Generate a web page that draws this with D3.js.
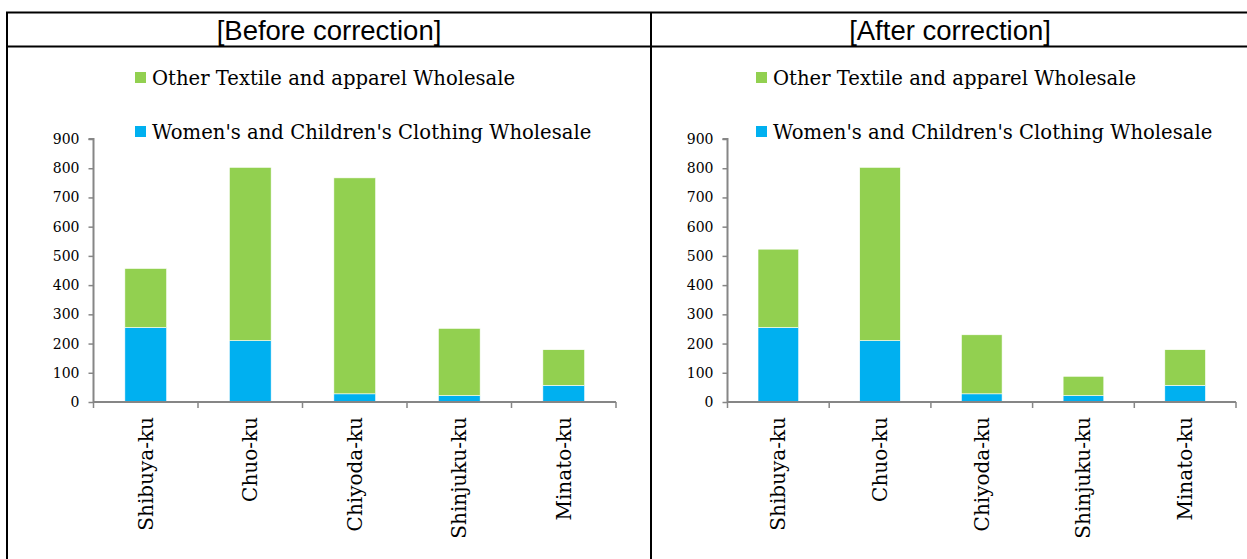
<!DOCTYPE html>
<html>
<head>
<meta charset="utf-8">
<script src="https://cdn.jsdelivr.net/npm/d3@7"></script>
<style>
  body { margin: 0; background: #fff; }
  svg { display: block; }
</style>
</head>
<body>
<div id="chart"></div>
<script>
// data
const wards = ['Shibuya-ku', 'Chuo-ku', 'Chiyoda-ku', 'Shinjuku-ku', 'Minato-ku'];
const womensBefore = [255, 210, 28, 22, 57];
const otherBefore = [202, 593, 739, 230, 122];
const womensAfter = [255, 210, 28, 22, 57];
const otherAfter = [268, 593, 202, 66, 122];
const yTicks = [0, 100, 200, 300, 400, 500, 600, 700, 800, 900];
const seriesNames = ['Other Textile and apparel Wholesale', "Women's and Children's Clothing Wholesale"];
const panelTitles = ['[Before correction]', '[After correction]'];

const colors = { other: '#92D050', womens: '#00B0F0' };
const axisColor = '#868686';
const serif = "'DejaVu Serif', serif";

const W = 1247, H = 559;
const svg = d3.select('#chart').append('svg').attr('width', W).attr('height', H);

// table frame
const tableTop = 12.5, headerBottom = 46.5, divider = 651, tableLeft = 7;
const frame = svg.append('g').attr('stroke', '#000').attr('stroke-width', 2);
frame.append('line').attr('x1', tableLeft - 1).attr('x2', W).attr('y1', tableTop).attr('y2', tableTop);
frame.append('line').attr('x1', tableLeft - 1).attr('x2', W).attr('y1', headerBottom).attr('y2', headerBottom);
frame.append('line').attr('x1', tableLeft).attr('x2', tableLeft).attr('y1', tableTop).attr('y2', H);
frame.append('line').attr('x1', divider).attr('x2', divider).attr('y1', tableTop).attr('y2', H);

const panels = [
  { title: panelTitles[0], womens: womensBefore, other: otherBefore, x0: 93.5, x1: 616, titleX: 329, legendX: 135 },
  { title: panelTitles[1], womens: womensAfter, other: otherAfter, x0: 727.5, x1: 1236, titleX: 950, legendX: 756 },
];

const y = d3.scaleLinear().domain([0, 900]).range([402, 139]);

panels.forEach(p => {
  const g = svg.append('g');

  g.append('text')
    .attr('x', p.titleX)
    .attr('y', 40)
    .attr('text-anchor', 'middle')
    .style('font-family', "'Liberation Sans', Arial, sans-serif")
    .style('font-size', '27.5px')
    .text(p.title);

  const x = d3.scaleBand().domain(wards).range([p.x0, p.x1]).paddingInner(0.6).paddingOuter(0.3);

  const stacked = wards.map((w, i) => ({ ward: w, womens: p.womens[i], other: p.other[i] }));
  const series = d3.stack().keys(['womens', 'other'])(stacked);

  g.selectAll('.series')
    .data(series)
    .enter()
    .append('g')
    .attr('fill', s => colors[s.key])
    .selectAll('rect')
    .data(s => s)
    .enter()
    .append('rect')
    .attr('x', d => x(d.data.ward))
    .attr('width', x.bandwidth())
    .attr('y', d => y(d[1]))
    .attr('height', d => y(d[0]) - y(d[1]))
    .attr('stroke', '#fff')
    .attr('stroke-width', 0.6);

  // y axis
  const yAxis = g.append('g')
    .attr('transform', 'translate(' + p.x0 + ',0)')
    .call(d3.axisLeft(y).tickValues(yTicks).tickSize(5).tickPadding(9));
  yAxis.select('.domain').attr('stroke', axisColor).attr('stroke-width', 2).attr('d', 'M-5,' + y(900) + 'H0V' + y(0));
  yAxis.selectAll('.tick line').attr('stroke', axisColor).attr('stroke-width', 1.5);
  yAxis.selectAll('.tick text')
    .style('font-family', serif)
    .style('font-size', '14px')
    .attr('fill', '#000');

  // x axis: ticks at band boundaries
  const bounds = d3.range(wards.length + 1).map(i => p.x0 + i * x.step());
  const xa = g.append('g');
  xa.append('line')
    .attr('x1', p.x0).attr('x2', p.x1)
    .attr('y1', y(0)).attr('y2', y(0))
    .attr('stroke', axisColor).attr('stroke-width', 2);
  xa.selectAll('.xtick')
    .data(bounds)
    .enter()
    .append('line')
    .attr('x1', d => d).attr('x2', d => d)
    .attr('y1', y(0)).attr('y2', y(0) + 6)
    .attr('stroke', axisColor).attr('stroke-width', 1.5);

  xa.selectAll('.xlabel')
    .data(wards)
    .enter()
    .append('text')
    .attr('transform', d => 'translate(' + (x(d) + x.bandwidth() / 2 + 7) + ',' + (y(0) + 15) + ') rotate(-90)')
    .attr('text-anchor', 'end')
    .style('font-family', serif)
    .style('font-size', '20px')
    .text(d => d);

  // legend
  const legend = g.append('g');
  const legendRows = [
    { name: seriesNames[0], color: colors.other, y: 72 },
    { name: seriesNames[1], color: colors.womens, y: 126 },
  ];
  legendRows.forEach(r => {
    legend.append('rect')
      .attr('x', p.legendX).attr('y', r.y)
      .attr('width', 11).attr('height', 11)
      .attr('fill', r.color);
    legend.append('text')
      .attr('x', p.legendX + 17).attr('y', r.y + 12.5)
      .style('font-family', serif)
      .style('font-size', '19.6px')
      .text(r.name);
  });
});
</script>
</body>
</html>
